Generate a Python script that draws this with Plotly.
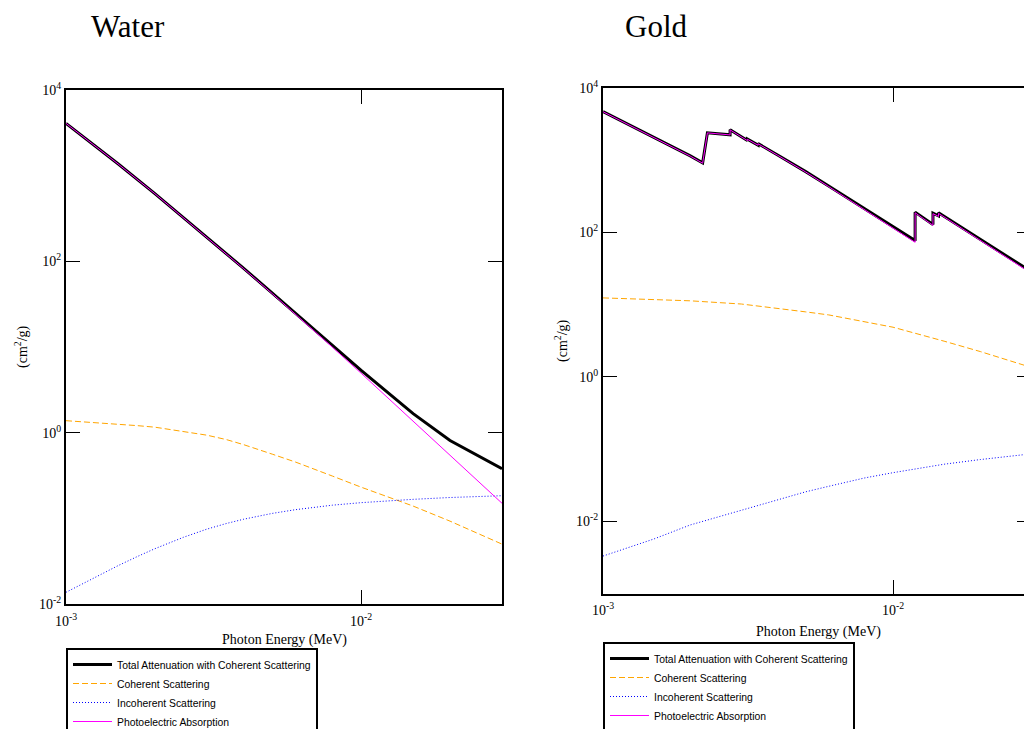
import math
import plotly.graph_objects as go

# ---------------- Data ----------------
# Water
water_energy_mev = [0.001, 0.0015, 0.002, 0.003, 0.004, 0.005, 0.006, 0.008, 0.01, 0.015, 0.02, 0.03]
water_total = [4078, 1376, 617.9, 192.9, 82.78, 42.58, 24.64, 10.37, 5.33, 1.67, 0.81, 0.38]
water_photo = [4076, 1374, 616.6, 191.9, 81.99, 41.92, 24.06, 9.92, 4.94, 1.36, 0.54, 0.15]
water_scatter_energy_mev = [0.001, 0.00125, 0.0015, 0.00175, 0.002, 0.0025, 0.003, 0.0035, 0.004,
                            0.005, 0.006, 0.008, 0.01, 0.015, 0.02, 0.03]
water_coherent = [1.38, 1.315, 1.256, 1.207, 1.159, 1.041, 0.935, 0.829, 0.724,
                  0.561, 0.453, 0.311, 0.231, 0.139, 0.0927, 0.050]
water_incoherent = [0.0137, 0.0205, 0.0280, 0.0360, 0.0442, 0.0601, 0.0748, 0.0872, 0.0977,
                    0.1142, 0.1263, 0.1425, 0.1524, 0.1666, 0.175, 0.1837]

# Gold (absorption edges appear as repeated energies)
gold_energy_mev = [0.001, 0.0015, 0.002, 0.002206, 0.002291, 0.002743, 0.002743, 0.003148,
                   0.003148, 0.003425, 0.003425, 0.004, 0.005, 0.006, 0.008, 0.01,
                   0.011919, 0.011919, 0.013734, 0.013734, 0.014353, 0.014353, 0.015, 0.02, 0.03]
gold_total = [4700, 2090, 1150, 920, 2400, 2250, 2640, 1875, 1960, 1620, 1700, 1180, 695, 438,
              212, 121, 77, 191, 129, 185, 170, 187, 167, 80.2, 28.5]
gold_photo = [4688, 2078, 1139, 909, 2389, 2240, 2630, 1865, 1950, 1610, 1690, 1171, 687, 431,
              206, 116, 73, 187, 125.5, 181.5, 166.7, 183.7, 163.9, 77.9, 27.1]
gold_scatter_energy_mev = [0.001, 0.0015, 0.002, 0.003, 0.004, 0.005, 0.006, 0.008, 0.01, 0.015, 0.02, 0.03]
gold_coherent = [12.4, 11.7, 11.3, 10.2, 8.93, 7.94, 7.21, 5.85, 4.87, 3.12, 2.24, 1.35]
gold_incoherent = [0.0033, 0.0057, 0.0089, 0.0141, 0.0198, 0.0256, 0.0305, 0.0399, 0.0471, 0.0617, 0.0716, 0.0859]

series_names = ["Total Attenuation with Coherent Scattering", "Coherent Scattering",
                "Incoherent Scattering", "Photoelectric Absorption"]

x_tickvals = [0.001, 0.01]
x_ticktext = ["10<sup>-3</sup>", "10<sup>-2</sup>"]
y_tickvals = [0.01, 1, 100, 10000]
y_ticktext = ["10<sup>-2</sup>", "10<sup>0</sup>", "10<sup>2</sup>", "10<sup>4</sup>"]

panel_titles = ["Water", "Gold"]
x_title = "Photon Energy (MeV)"
y_title = "(cm<sup>2</sup>/g)"

# ---------------- Styles ----------------
W, H = 1024, 729
SERIF = "Liberation Serif, Times New Roman, serif"
SANS = "Liberation Sans, Arial, sans-serif"
styles = [
    dict(color="black", width=3),
    dict(color="#FFA500", width=1, dash="6px,3px"),
    dict(color="#0000FF", width=1, dash="1px,2px"),
    dict(color="#FF00FF", width=1),
]

fig = go.Figure()

water_sets = [(water_energy_mev, water_total), (water_scatter_energy_mev, water_coherent),
              (water_scatter_energy_mev, water_incoherent), (water_energy_mev, water_photo)]
for (xs, ys), name, st in zip(water_sets, series_names, styles):
    fig.add_trace(go.Scatter(x=xs, y=ys, mode="lines", name=name, line=st,
                             xaxis="x", yaxis="y", legend="legend"))

gold_sets = [(gold_energy_mev, gold_total), (gold_scatter_energy_mev, gold_coherent),
             (gold_scatter_energy_mev, gold_incoherent), (gold_energy_mev, gold_photo)]
for i, ((xs, ys), name, st) in enumerate(zip(gold_sets, series_names, styles)):
    fig.add_trace(go.Scatter(x=xs, y=ys, mode="lines", name=name, line=st,
                             xaxis="x2", yaxis="y3" if i == 3 else "y2", legend="legend2"))

axis_common = dict(type="log", showgrid=False, zeroline=False, showline=True,
                   linecolor="black", linewidth=2, ticks="inside", tickcolor="black",
                   tickwidth=1, ticklen=14,
                   tickfont=dict(family=SERIF, size=14, color="black"))


def px_x(p):
    return p / W


def px_y(p):
    return 1 - p / H


legend_font = dict(family=SANS, size=10.4, color="black")

fig.update_layout(
    width=W, height=H,
    margin=dict(l=0, r=0, t=0, b=0, autoexpand=False),
    paper_bgcolor="white", plot_bgcolor="white",
    xaxis=dict(axis_common, domain=[px_x(66), px_x(502)], range=[-3, math.log10(0.03)],
               anchor="y", mirror="ticks", tickvals=x_tickvals, ticktext=x_ticktext,
               ticklabelstandoff=3),
    yaxis=dict(axis_common, domain=[px_y(604), px_y(90)], range=[-2, 4],
               anchor="x", mirror="ticks", tickvals=y_tickvals, ticktext=y_ticktext),
    xaxis2=dict(axis_common, domain=[px_x(603), 1.0], range=[-3, -3 + 421 / 290],
                anchor="y2", mirror="ticks", tickvals=x_tickvals, ticktext=x_ticktext,
                ticklabelstandoff=3),
    yaxis2=dict(axis_common, domain=[px_y(593.5), px_y(88)], range=[-3, 4],
                anchor="x2", tickvals=y_tickvals, ticktext=y_ticktext),
    yaxis3=dict(type="log", overlaying="y2", side="right", anchor="x2", range=[-3, 4],
                showgrid=False, zeroline=False, showline=False, ticks="inside",
                tickcolor="black", tickwidth=1, ticklen=7, tickvals=y_tickvals,
                showticklabels=False),
    legend=dict(x=px_x(66), y=px_y(648), xanchor="left", yanchor="top",
                bordercolor="black", borderwidth=2, bgcolor="white",
                font=legend_font, itemwidth=39, tracegroupgap=0),
    legend2=dict(x=px_x(603), y=px_y(642), xanchor="left", yanchor="top",
                 bordercolor="black", borderwidth=2, bgcolor="white",
                 font=legend_font, itemwidth=39, tracegroupgap=0),
    showlegend=True,
)

annotations = [
    dict(text=panel_titles[0], x=px_x(128), y=px_y(27)),
    dict(text=panel_titles[1], x=px_x(656), y=px_y(27)),
]
for a in annotations:
    a.update(xref="paper", yref="paper", showarrow=False, xanchor="center", yanchor="middle",
             font=dict(family=SERIF, size=31, color="black"))
axis_titles = [
    dict(text=x_title, x=px_x(284), y=px_y(640)),
    dict(text=x_title, x=px_x(818), y=px_y(631.5)),
    dict(text=y_title, x=px_x(21), y=px_y(347), textangle=-90),
    dict(text=y_title, x=px_x(561), y=px_y(341), textangle=-90),
]
for a in axis_titles:
    a.update(xref="paper", yref="paper", showarrow=False, xanchor="center", yanchor="middle",
             font=dict(family=SERIF, size=14, color="black"))
fig.update_layout(annotations=annotations + axis_titles)

fig.write_html("out.html",
               config={"displayModeBar": False},
               post_script="document.body.style.margin='0px';document.body.style.overflow='hidden';")
